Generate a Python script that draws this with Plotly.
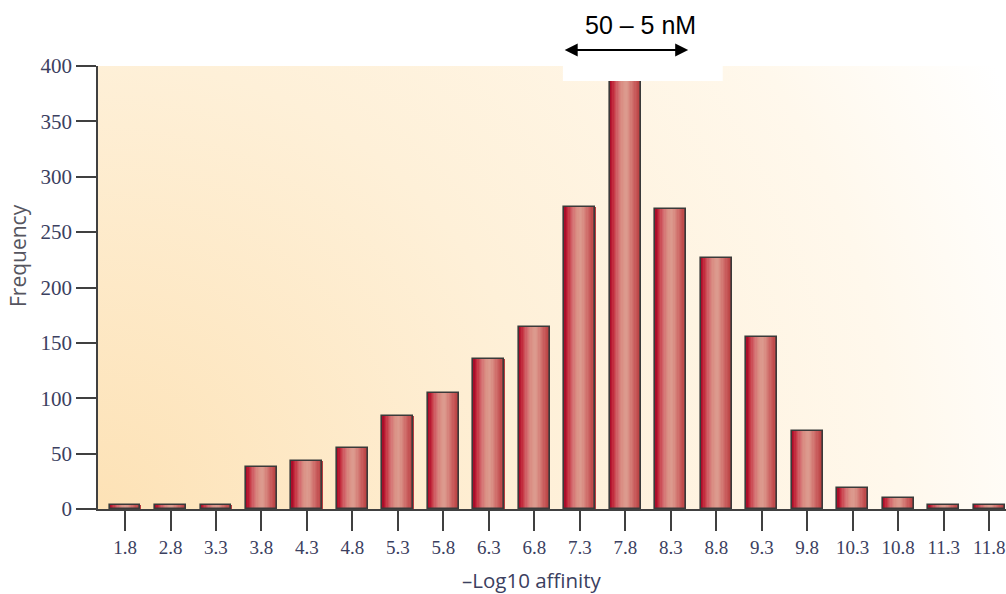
import base64
import plotly.graph_objects as go

categories = ["1.8", "2.8", "3.3", "3.8", "4.3", "4.8", "5.3", "5.8", "6.3", "6.8",
              "7.3", "7.8", "8.3", "8.8", "9.3", "9.8", "10.3", "10.8", "11.3", "11.8"]
frequency = [4, 4, 4, 38, 43, 55, 84, 105, 135, 164,
             273, 400, 271, 227, 155, 70, 19, 10, 4, 4]
y_ticks = [0, 50, 100, 150, 200, 250, 300, 350, 400]

# horizontal shading across each bar (left -> right)
strip_colors = ["#aa0e2a", "#b81a32", "#c22c3e", "#c83e4a", "#cc5058", "#d06066",
                "#d46e70", "#d67a78", "#d8867e", "#da8e84", "#db9488", "#dc988c",
                "#dc9a8e", "#db968a", "#d98e84", "#d6847c", "#d37a74", "#d0706c",
                "#cc6664", "#c85c5c", "#c45454", "#c04c4c", "#bc4646", "#b63e40"]

BAR_W = 0.68
n = len(strip_colors)
sw = BAR_W / n

fig = go.Figure()
for i, c in enumerate(strip_colors):
    fig.add_trace(go.Bar(
        x=categories, y=frequency,
        width=sw * 1.6 if i < n - 1 else sw,
        offset=-BAR_W / 2 + i * sw,
        marker=dict(color=c, line=dict(width=0)),
        hoverinfo="skip", showlegend=False))
fig.add_trace(go.Bar(
    x=categories, y=frequency, width=BAR_W, offset=-BAR_W / 2,
    marker=dict(color="rgba(0,0,0,0)", line=dict(color="#3a3a3a", width=1.6)),
    showlegend=False))

svg = ('<svg xmlns="http://www.w3.org/2000/svg" width="908" height="443" viewBox="0 0 908 443" '
       'preserveAspectRatio="none"><defs><radialGradient id="g" cx="0" cy="443" r="1000" '
       'gradientUnits="userSpaceOnUse"><stop offset="0" stop-color="#fde2b6"/>'
       '<stop offset="0.45" stop-color="#fef0d8"/><stop offset="0.8" stop-color="#fff8ec"/>'
       '<stop offset="1" stop-color="#ffffff"/></radialGradient></defs>'
       '<rect width="908" height="443" fill="url(#g)"/></svg>')
src = "data:image/svg+xml;base64," + base64.b64encode(svg.encode()).decode()

axis_col = "#404040"

fig.update_layout(
    width=1006, height=594,
    margin=dict(l=98, r=0, t=66, b=85),
    paper_bgcolor="white", plot_bgcolor="rgba(0,0,0,0)",
    barmode="overlay", bargap=0,
    images=[dict(source=src, xref="paper", yref="paper", x=0, y=1, sizex=1, sizey=1,
                 sizing="stretch", layer="below", xanchor="left", yanchor="top")],
    xaxis=dict(type="category", range=[-0.594, 19.37], showgrid=False, zeroline=False,
               showline=True, linecolor=axis_col, linewidth=1.6,
               ticks="outside", ticklen=20, tickwidth=1.6, tickcolor=axis_col,
               tickfont=dict(family="Liberation Serif", size=19, color="#3b4060"),
               fixedrange=True),
    yaxis=dict(range=[0, 400], tickvals=y_ticks, showgrid=False, zeroline=False,
               showline=True, linecolor=axis_col, linewidth=1.6,
               ticks="outside", ticklen=20, tickwidth=1.6, tickcolor=axis_col,
               tickfont=dict(family="Liberation Serif", size=21, color="#3b4060"),
               fixedrange=True),
    shapes=[dict(type="rect", xref="paper", yref="paper", x0=0.512, x1=0.688,
                 y0=0.966, y1=1.01, fillcolor="white", line=dict(width=0), layer="above")],
    annotations=[
        dict(text="50 – 5 nM", xref="paper", yref="paper", x=0.5975, y=1.0926,
             showarrow=False, font=dict(family="Liberation Sans", size=25, color="black"),
             xanchor="center", yanchor="middle"),
        dict(text="", xref="paper", yref="paper", x=0.650, y=1.036, ax=-125, ay=0,
             showarrow=True, arrowside="end+start", arrowhead=2, startarrowhead=2,
             arrowsize=1.3, startarrowsize=1.3, arrowwidth=2, arrowcolor="black",
             standoff=0, startstandoff=0),
        dict(text="–Log10 affinity", xref="paper", yref="paper", x=(532 - 98) / 908,
             y=-(580 - 509) / 443, showarrow=False, xanchor="center", yanchor="middle",
             font=dict(family="Open Sans", size=20.5, color="#3b4060")),
        dict(text="Frequency", xref="paper", yref="paper", x=-(98 - 18) / 908,
             y=(509 - 256) / 443, showarrow=False, textangle=-90, xanchor="center",
             yanchor="middle", font=dict(family="Open Sans", size=21, color="#555560")),
    ],
)

fig.write_html("out.html")
